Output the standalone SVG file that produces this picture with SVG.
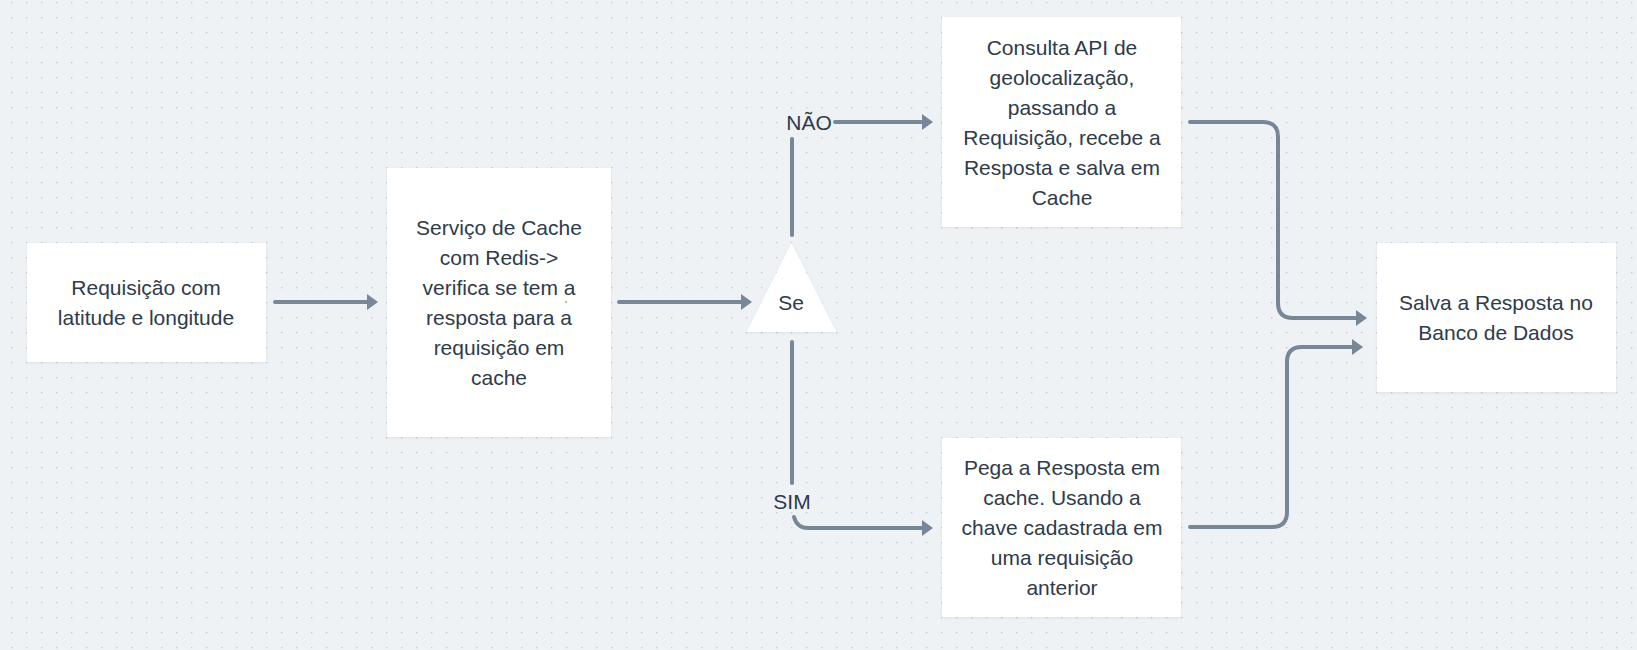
<svg xmlns="http://www.w3.org/2000/svg" width="1637" height="650" viewBox="0 0 1637 650">
<defs>
<style>
.node{fill:#ffffff;filter:url(#sh);}
.t{font-family:"Liberation Sans",Arial,sans-serif;font-size:21px;fill:#2e3b4b;text-anchor:middle;}
.c{fill:none;stroke:#778797;stroke-width:4;stroke-linecap:round;stroke-linejoin:round;}
.ca{marker-end:url(#ah);}
</style>
<pattern id="dots" x="0" y="0" width="15" height="15" patternUnits="userSpaceOnUse">
<rect x="11" y="2" width="1.3" height="1.3" fill="#bcc4cf"/>
</pattern>
<marker id="ah" viewBox="0 0 11 16" refX="0" refY="8" markerWidth="11" markerHeight="16" markerUnits="userSpaceOnUse" orient="auto">
<path d="M0,0 L11,8 L0,16 Z" fill="#778797"/>
</marker>
<filter id="sh" x="-10%" y="-10%" width="120%" height="130%">
<feDropShadow dx="0" dy="1" stdDeviation="1.5" flood-color="#8a97a8" flood-opacity="0.2"/>
</filter>
</defs>
<rect width="1637" height="650" fill="#eff2f5"/>
<rect width="1637" height="650" fill="url(#dots)"/>

<g id="connectors">
<path class="c ca" d="M275 302 H367"/>
<path class="c ca" d="M619 302 H741"/>
<path class="c" d="M792 235 V139"/>
<path class="c ca" d="M835 122 H922"/>
<path class="c" d="M792 342 V483"/>
<path class="c ca" d="M794 517 Q797 528 808 528 H922"/>
<path class="c ca" d="M1190 122 H1263 Q1278 122 1278 137 V303 Q1278 318 1293 318 H1356"/>
<path class="c ca" d="M1190 527 H1272 Q1287 527 1287 512 V362 Q1287 347 1302 347 H1352"/>
<text class="t" x="809" y="130">NÃO</text>
<text class="t" x="792" y="509">SIM</text>
</g>

<g id="n1">
<rect class="node" x="27" y="243" width="239" height="119"/>
<text class="t" x="146" y="295">Requisição com</text>
<text class="t" x="146" y="325">latitude e longitude</text>
</g>

<g id="n2">
<rect class="node" x="387" y="168" width="224" height="269"/>
<text class="t" x="499" y="235">Serviço de Cache</text>
<text class="t" x="499" y="265">com Redis-&gt;</text>
<text class="t" x="499" y="295">verifica se tem a</text>
<text class="t" x="499" y="325">resposta para a</text>
<text class="t" x="499" y="355">requisição em</text>
<text class="t" x="499" y="385">cache</text>
<circle cx="566" cy="302" r="1" fill="#9aa4b0"/>
</g>

<g id="n3">
<path class="node" d="M791.5 243 L836.5 332 L746.5 332 Z"/>
<text class="t" x="791" y="310">Se</text>
</g>

<g id="n4">
<rect class="node" x="942" y="17" width="239" height="210"/>
<text class="t" x="1062" y="55">Consulta API de</text>
<text class="t" x="1062" y="85">geolocalização,</text>
<text class="t" x="1062" y="115">passando a</text>
<text class="t" x="1062" y="145">Requisição, recebe a</text>
<text class="t" x="1062" y="175">Resposta e salva em</text>
<text class="t" x="1062" y="205">Cache</text>
</g>

<g id="n5">
<rect class="node" x="942" y="438" width="239" height="179"/>
<text class="t" x="1062" y="475">Pega a Resposta em</text>
<text class="t" x="1062" y="505">cache. Usando a</text>
<text class="t" x="1062" y="535">chave cadastrada em</text>
<text class="t" x="1062" y="565">uma requisição</text>
<text class="t" x="1062" y="595">anterior</text>
</g>

<g id="n6">
<rect class="node" x="1377" y="243" width="239" height="149"/>
<text class="t" x="1496" y="310">Salva a Resposta no</text>
<text class="t" x="1496" y="340">Banco de Dados</text>
</g>
</svg>
